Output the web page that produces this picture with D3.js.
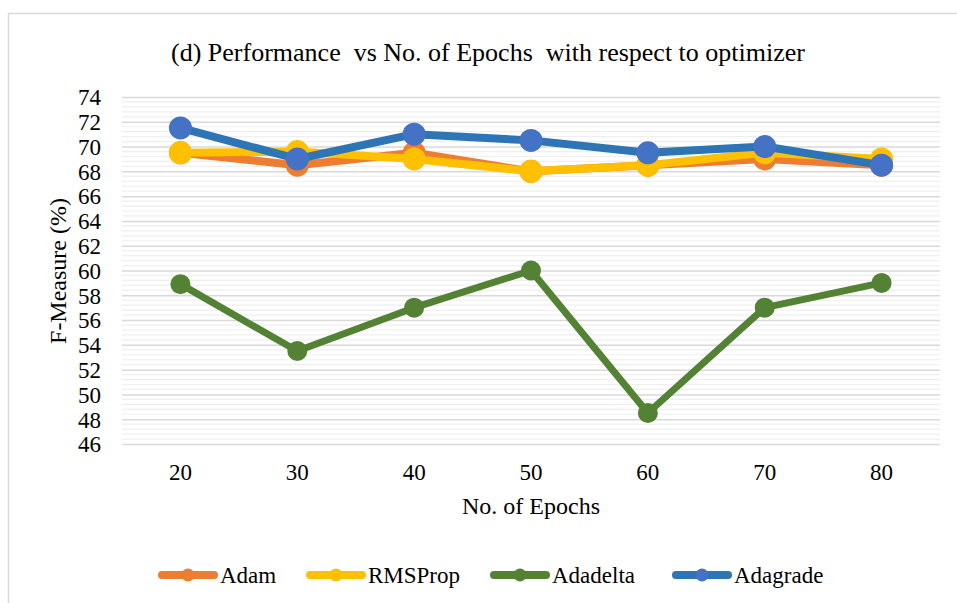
<!DOCTYPE html>
<html><head><meta charset="utf-8">
<script src="https://cdn.jsdelivr.net/npm/d3@7"></script>
<style>body{margin:0;background:#fff}svg{display:block}text{font-family:"Liberation Serif","Times New Roman",serif;fill:#000}</style>
</head><body><svg id="c" width="957" height="603"></svg>
<script>
const categories = ["20","30","40","50","60","70","80"];
const adam     = [69.5, 68.5, 69.5, 68.0, 68.5, 69.0, 68.5];
const rmsprop  = [69.5, 69.6, 69.0, 68.0, 68.5, 69.5, 69.0];
const adadelta = [58.9, 53.5, 57.0, 60.0, 48.5, 57.0, 59.0];
const adagrade = [71.5, 69.0, 71.0, 70.5, 69.5, 70.0, 68.5];
const yTicks = [46,48,50,52,54,56,58,60,62,64,66,68,70,72,74];
const seriesNames = ["Adam","RMSProp","Adadelta","Adagrade"];

const series = [
  {name:"Adam", values:adam, line:"#ED7D31", fill:"#ED7D31", lw:8, r:11.5},
  {name:"RMSProp", values:rmsprop, line:"#FFC000", fill:"#FFC000", lw:8, r:11.5},
  {name:"Adadelta", values:adadelta, line:"#548235", fill:"#548235", lw:7, r:10},
  {name:"Adagrade", values:adagrade, line:"#2E75B6", fill:"#4472C4", lw:8, r:11.5}
];

const svg = d3.select("#c");
svg.append("rect").attr("x",8.5).attr("y",13.5).attr("width",960).attr("height",600)
  .attr("fill","#fff").attr("stroke","#d9d9d9").attr("stroke-width",1.5);

const L=122, R=940, T=97, B=444;
const x = d3.scaleBand().domain(categories).range([L,R]);
const y = d3.scaleLinear().domain([46,74]).range([B,T]);

const minor = d3.range(46,74.001,0.4).filter(v=>Math.abs(v/2-Math.round(v/2))>1e-6);
svg.append("g").selectAll("line").data(minor).join("line")
  .attr("x1",L).attr("x2",R).attr("y1",d=>y(d)).attr("y2",d=>y(d))
  .attr("stroke","#efefef").attr("stroke-width",1.2);
const yAxis = d3.axisLeft(y).tickValues(yTicks).tickSize(-(R-L)).tickFormat(d3.format("d"));
const gy = svg.append("g").attr("transform",`translate(${L},0)`).call(yAxis)
  .attr("font-family","Liberation Serif, serif");
gy.select(".domain").remove();
gy.selectAll(".tick line").attr("stroke","#d9d9d9").attr("stroke-width",1.5);
gy.selectAll(".tick text").attr("x",-21).attr("font-size","23px").attr("dy","0.34em");

const xAxis = d3.axisBottom(x).tickSize(0);
const gx = svg.append("g").attr("transform",`translate(0,${B})`).call(xAxis)
  .attr("font-family","Liberation Serif, serif");
gx.select(".domain").remove();
gx.selectAll(".tick text").attr("font-size","23px").attr("dy","0").attr("y",36);

svg.append("text").attr("x",488).attr("y",61).attr("text-anchor","middle").attr("font-size","26px")
  .attr("xml:space","preserve").text("(d) Performance  vs No. of Epochs  with respect to optimizer");
svg.append("text").attr("transform","translate(66,271) rotate(-90)").attr("text-anchor","middle")
  .attr("font-size","24px").text("F-Measure (%)");
svg.append("text").attr("x",531).attr("y",514).attr("text-anchor","middle").attr("font-size","24px").text("No. of Epochs");

const cx = c => x(c)+x.bandwidth()/2;
const line = d3.line().x((d,i)=>cx(categories[i])).y(d=>y(d));
series.forEach(s=>{
  const g = svg.append("g");
  g.append("path").datum(s.values).attr("d",line).attr("fill","none")
    .attr("stroke",s.line).attr("stroke-width",s.lw).attr("stroke-linejoin","round");
  g.selectAll("circle").data(s.values).join("circle")
    .attr("cx",(d,i)=>cx(categories[i])).attr("cy",d=>y(d))
    .attr("r",s.r).attr("fill",s.fill);
});

const legX = [158, 306, 490, 672];
const lg = svg.append("g");
series.forEach((s,i)=>{
  const x0 = legX[i], yy = 575;
  lg.append("line").attr("x1",x0+4).attr("x2",x0+56).attr("y1",yy).attr("y2",yy)
    .attr("stroke",s.line).attr("stroke-width",8).attr("stroke-linecap","round");
  lg.append("circle").attr("cx",x0+30).attr("cy",yy).attr("r",6.5).attr("fill",s.fill);
  lg.append("text").attr("x",x0+62).attr("y",yy+8).attr("font-size","23px").text(seriesNames[i]);
});
</script></body></html>
